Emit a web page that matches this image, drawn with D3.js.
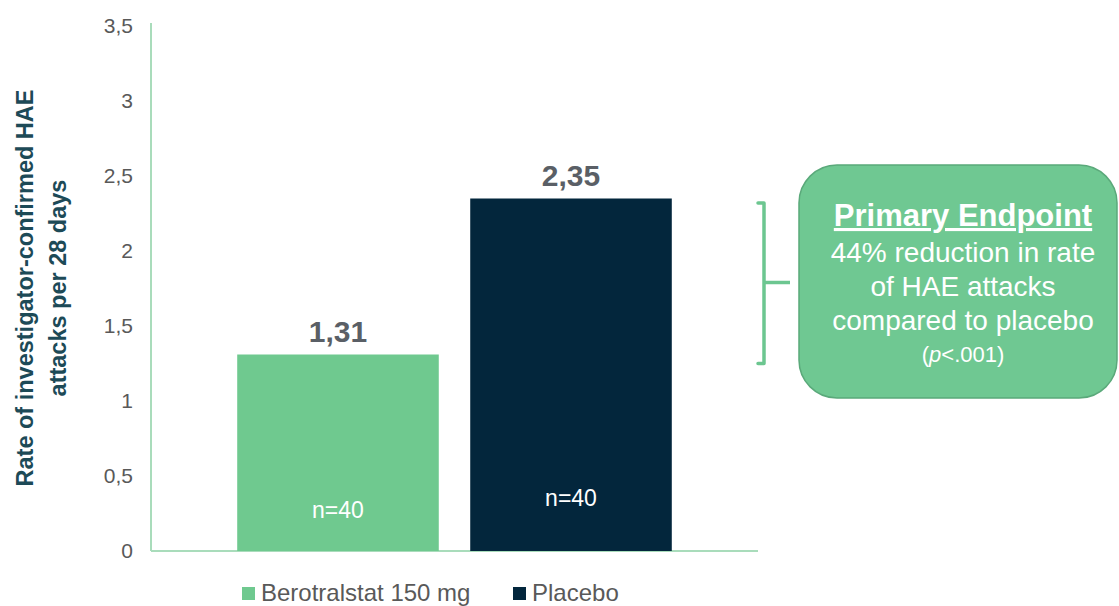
<!DOCTYPE html>
<html>
<head>
<meta charset="utf-8">
<script src="https://cdn.jsdelivr.net/npm/d3@7"></script>
<style>
  html, body { margin: 0; padding: 0; background: #ffffff; }
  svg { display: block; font-family: "Liberation Sans", Arial, sans-serif; }
</style>
</head>
<body>
<svg id="chart" width="1119" height="606"></svg>
<script>
// Rate of attacks per treatment arm
const categories = ["Berotralstat 150 mg", "Placebo"];
const rates = [1.31, 2.35];
const sampleSizes = [40, 40];
const barColors = ["#6fc98f", "#03263c"];
const yTicks = [0, 0.5, 1, 1.5, 2, 2.5, 3, 3.5];
const yTitleLines = ["Rate of investigator-confirmed HAE", "attacks per 28 days"];
const calloutTitle = "Primary Endpoint";
const calloutLines = ["44% reduction in rate", "of HAE attacks", "compared to placebo"];

const svg = d3.select("#chart");
const locale = d3.formatLocale({ decimal: ",", thousands: ".", grouping: [3], currency: ["", "€"] });
const fmtTick = v => locale.format("~g")(v);
const fmtVal = locale.format(".2f");

const plot = { left: 151, right: 758, top: 26, bottom: 551 };

const x = d3.scaleBand()
  .domain(categories)
  .range([plot.left, plot.right])
  .paddingInner(0.135)
  .paddingOuter(0.37);

const y = d3.scaleLinear()
  .domain([0, 3.5])
  .range([plot.bottom, plot.top]);

// y axis: tick labels only, plus a thin green spine
const yAxis = d3.axisLeft(y).tickValues(yTicks).tickFormat(fmtTick).tickSize(0).tickPadding(18);
const gy = svg.append("g").attr("transform", `translate(${plot.left},0)`).call(yAxis);
gy.select(".domain").remove();
gy.selectAll("text")
  .attr("fill", "#595959")
  .style("font-size", "21px")
  .style("font-family", "'Liberation Sans', Arial, sans-serif");

svg.append("line")
  .attr("x1", plot.left).attr("x2", plot.left)
  .attr("y1", y(3.5) - 3).attr("y2", y(0))
  .attr("stroke", "#a9dcbb").attr("stroke-width", 2);
svg.append("line")
  .attr("x1", plot.left).attr("x2", plot.right)
  .attr("y1", y(0)).attr("y2", y(0))
  .attr("stroke", "#a9dcbb").attr("stroke-width", 2);

// Bars
svg.append("g").selectAll("rect")
  .data(categories)
  .join("rect")
  .attr("x", d => x(d))
  .attr("width", x.bandwidth())
  .attr("y", (d, i) => y(rates[i]))
  .attr("height", (d, i) => y(0) - y(rates[i]))
  .attr("fill", (d, i) => barColors[i]);

// Value labels above bars
svg.append("g").selectAll("text")
  .data(categories)
  .join("text")
  .attr("x", d => x(d) + x.bandwidth() / 2)
  .attr("y", (d, i) => y(rates[i]) - 13)
  .attr("text-anchor", "middle")
  .attr("fill", "#5a5f66")
  .style("font-size", "30px")
  .style("font-weight", "bold")
  .text((d, i) => fmtVal(rates[i]));

// Sample size inside bars
const nOffsets = [33, 45];
svg.append("g").selectAll("text")
  .data(categories)
  .join("text")
  .attr("x", d => x(d) + x.bandwidth() / 2)
  .attr("y", (d, i) => y(0) - nOffsets[i])
  .attr("text-anchor", "middle")
  .attr("fill", "#ffffff")
  .style("font-size", "23px")
  .text((d, i) => "n=" + sampleSizes[i]);

// Y axis title (two centred lines, rotated)
const yTitle = svg.append("text")
  .attr("transform", "translate(33,288) rotate(-90)")
  .attr("text-anchor", "middle")
  .attr("fill", "#1d4a57")
  .style("font-size", "23.5px")
  .style("font-weight", "bold");
yTitleLines.forEach((t, i) => {
  yTitle.append("tspan").attr("x", 0).attr("dy", i === 0 ? 0 : 33).text(t);
});

// Legend
const legendX = [242, 513];
const legend = svg.append("g").selectAll("g")
  .data(categories)
  .join("g")
  .attr("transform", (d, i) => `translate(${legendX[i]},0)`);
legend.append("rect")
  .attr("x", 0).attr("y", 587)
  .attr("width", 13).attr("height", 13)
  .attr("fill", (d, i) => barColors[i]);
legend.append("text")
  .attr("x", 19).attr("y", 601)
  .attr("fill", "#595959")
  .style("font-size", "24px")
  .text(d => d);

// Bracket joining the two arms to the callout
const bracket = { x: 764, top: y(2.32), bottom: y(1.25), mid: y(1.79) };
svg.append("path")
  .attr("d", `M${bracket.x - 6},${bracket.top} H${bracket.x} V${bracket.bottom} H${bracket.x - 6}`)
  .attr("fill", "none")
  .attr("stroke", "#6cc690")
  .attr("stroke-width", 3.5)
  .attr("stroke-linejoin", "round")
  .attr("stroke-linecap", "round");
svg.append("line")
  .attr("x1", bracket.x).attr("x2", 790)
  .attr("y1", bracket.mid).attr("y2", bracket.mid)
  .attr("stroke", "#6cc690").attr("stroke-width", 3.5);

// Callout box
const box = { x: 799, y: 165, w: 318, h: 233 };
svg.append("rect")
  .attr("x", box.x).attr("y", box.y)
  .attr("width", box.w).attr("height", box.h)
  .attr("rx", 38).attr("ry", 38)
  .attr("fill", "#6fc892")
  .attr("stroke", "#5aa97a")
  .attr("stroke-width", 1.5);

const cx = box.x + box.w / 2 + 5;
svg.append("text")
  .attr("x", cx).attr("y", 226)
  .attr("text-anchor", "middle")
  .attr("fill", "#ffffff")
  .style("font-size", "31px")
  .style("font-weight", "bold")
  .style("text-decoration", "underline")
  .text(calloutTitle);

calloutLines.forEach((t, i) => {
  svg.append("text")
    .attr("x", cx).attr("y", 262 + i * 34)
    .attr("text-anchor", "middle")
    .attr("fill", "#ffffff")
    .style("font-size", "28px")
    .text(t);
});

const pText = svg.append("text")
  .attr("x", cx).attr("y", 362)
  .attr("text-anchor", "middle")
  .attr("fill", "#ffffff")
  .style("font-size", "22px");
pText.append("tspan").text("(");
pText.append("tspan").style("font-style", "italic").text("p");
pText.append("tspan").text("<.001)");
</script>
</body>
</html>
